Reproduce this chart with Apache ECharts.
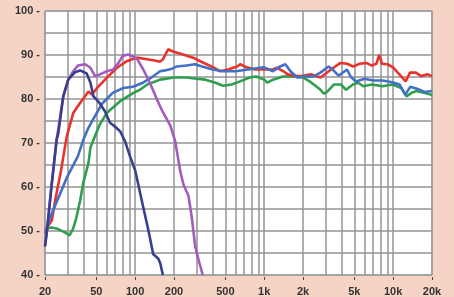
<!DOCTYPE html>
<html>
<head>
    <meta charset="utf-8">
    <title>Frequency response</title>
    <script src="https://cdn.jsdelivr.net/npm/echarts@6/dist/echarts.min.js"></script>
    <style>
        html, body { margin: 0; padding: 0; background: #f5d4c6; }
        #main { width: 454px; height: 297px; }
    </style>
</head>
<body>
<div id="main"></div>
<script type="text/javascript">
    // grid and label positions (Hz)
    var gridFreqs = [20, 30, 40, 50, 60, 70, 80, 90, 100, 200, 300, 400, 500, 600, 700, 800, 900,
        1000, 2000, 3000, 4000, 5000, 6000, 7000, 8000, 9000, 10000, 20000];
    var labelFreqs = [20, 50, 100, 200, 500, 1000, 2000, 5000, 10000, 20000];

    // dark blue curve
    var navyF = [20, 20.7, 22.5, 24.6, 25.4, 27.7, 30.3, 34.2, 37.4, 42.1, 45, 47.5, 52.9, 58.3, 63.8, 70,
        76.7, 83.6, 91.4, 100, 115.5, 127, 138, 145, 152, 157, 164];
    var navyDb = [46.5, 50, 60.4, 70.7, 72.3, 80.6, 84.4, 86.1, 86.5, 85.8, 83.7, 80.6, 79.1, 77.2, 74.6, 73.7,
        72.6, 70.3, 66.9, 63.8, 55.4, 50, 44.7, 44.2, 43.6, 42.5, 40];

    // purple curve
    var purpleF = [20, 20.7, 22.5, 24.6, 27.7, 30.3, 33.1, 36, 40.9, 45, 48.9, 53.4, 60.2, 67.6, 74.3, 80,
        88.6, 97, 104, 115.6, 130, 148, 164, 187, 204, 224, 237, 259, 275, 292, 309, 322, 334];
    var purpleDb = [46.5, 50, 60.4, 70.7, 80.6, 84.4, 86.3, 87.6, 87.9, 87.1, 85.2, 85.6, 86.3, 86.7, 88.2, 89.8,
        90.1, 89.6, 89, 86.7, 83.7, 79.8, 77, 74, 70.5, 63.5, 60.5, 58, 53, 46.5, 43.6, 41.7, 40];

    // red curve
    var redF = [20, 21.5, 22.6, 24, 26.7, 29.5, 33.1, 37.4, 43.5, 46.2, 50.6, 60.2, 72.3, 86.1, 103, 120, 138,
        156, 164, 180, 196, 235, 281, 335, 405, 455, 525, 618, 651, 730, 850, 1000, 1170, 1260, 1410, 1520,
        1790, 2010, 2300, 2730, 3000, 3400, 3900, 4400, 4900, 5500, 6200, 6800, 7400, 7800, 8200, 9000,
        10000, 11000, 12500, 13500, 15000, 16500, 18500, 20000];
    var redDb = [50, 51.5, 52.4, 57, 64, 71.5, 76.8, 79.1, 81.7, 81, 82.5, 84.8, 87.1, 88.6, 89.4, 89.1, 88.8,
        88.5, 89, 91.3, 90.8, 90.1, 89.4, 88.3, 87.2, 86.3, 86.7, 87.4, 87.9, 87.2, 86.7, 86.7, 86.7, 87.1, 86.3, 85.6,
        85.2, 85.3, 85.6, 84.9, 85.8, 87, 88.2, 88, 87.4, 88, 88.2, 87.6, 88, 90, 88,
        87.9, 87.2, 85.8, 84, 86, 86, 85.2, 85.6, 85.2];

    // blue curve
    var blueF = [20, 20.7, 21.9, 29.6, 36, 39.6, 43, 49, 56, 67, 81, 96, 115, 137, 156, 170, 190, 210, 250, 290,
        330, 400, 480, 600, 750, 990, 1170, 1330, 1460, 1600, 1810, 2010, 2400, 2730, 3160, 3400, 3770, 4390,
        4700, 5150, 6000, 7000, 8300, 9800, 11200, 12400, 13600, 15500, 17500, 20000];
    var blueDb = [49.5, 50.5, 53, 62.2, 67, 70.7, 73.2, 76.2, 79.1, 81.4, 82.5, 82.8, 83.7, 85.1, 86.3, 86.5, 86.8,
        87.4, 87.6, 87.9, 87.4, 86.7, 86.3, 86.3, 86.7, 87.2, 86.3, 87.4, 87.9, 86.3, 84.9, 85.1, 85.1, 86, 87.4,
        86.7, 85.3, 86.7, 85, 84, 84.6, 84.2, 84.2, 83.8, 83.3, 81, 82.8, 82.3, 81.6, 81.8];

    // green curve
    var greenF = [20, 22.5, 25, 28, 31, 33, 35, 37.5, 39.6, 43.5, 45, 52.9, 60.2, 76.4, 97, 109, 124, 156, 200,
        250, 300, 350, 420, 480, 560, 650, 770, 864, 1000, 1060, 1170, 1400, 1680, 2000, 2250, 2500, 2730,
        2900, 3076, 3480, 3930, 4310, 4880, 5350, 5870, 6840, 8240, 9910, 11550, 12680, 13890, 15230,
        17240, 19500, 20000];
    var greenDb = [50.5, 50.8, 50.5, 49.8, 49, 50.5, 53, 57, 61, 65.5, 69, 74.1, 76.8, 79.5, 81.4, 82.1, 83.3, 84.4,
        84.9, 84.9, 84.6, 84.4, 83.7, 83, 83.3, 84, 84.9, 85.1, 84.4, 83.7, 84.4, 85.1, 85.1, 84.9, 84, 83, 82.1,
        81.2, 81.6, 83.3, 83.3, 82.1, 83.3, 83.7, 82.9, 83.3, 82.9, 83.3, 82.5, 80.6, 81.4, 81.8,
        81.4, 81, 80.8];

    function pairs(f, v) {
        var out = [];
        for (var i = 0; i < f.length; i++) {
            out.push([f[i], v[i]]);
        }
        return out;
    }

    function curve(name, color, f, v) {
        return {
            name: name,
            type: 'line',
            showSymbol: false,
            xAxisIndex: 0,
            data: pairs(f, v),
            lineStyle: {color: color, width: 2.6},
            itemStyle: {color: color}
        };
    }

    var myChart = echarts.init(document.getElementById('main'));

    var labelFont = {
        color: '#333',
        fontSize: 11,
        fontWeight: 'bold',
        fontFamily: 'Liberation Sans, Arial, sans-serif'
    };
    var gridLine = {color: '#939393', width: 1.5};

    var option = {
        backgroundColor: '#f5d4c6',
        animation: false,
        grid: {
            left: 45, right: 22, top: 11, bottom: 22,
            show: true,
            backgroundColor: '#ffffff',
            borderColor: '#a9bfcf',
            borderWidth: 1
        },
        xAxis: [
            {
                type: 'log',
                logBase: 10,
                min: 20,
                max: 20000,
                position: 'bottom',
                axisLine: {show: false},
                axisTick: {show: false, customValues: gridFreqs},
                splitLine: {show: true, lineStyle: gridLine},
                axisLabel: Object.assign({
                    customValues: labelFreqs,
                    margin: 11,
                    formatter: function (v) {
                        return v >= 1000 ? (v / 1000) + 'k' : String(v);
                    }
                }, labelFont)
            },
            {
                type: 'log',
                logBase: 10,
                min: 20,
                max: 20000,
                position: 'bottom',
                offset: 2,
                axisLine: {show: false},
                axisTick: {show: true, length: 3, customValues: labelFreqs, lineStyle: {color: '#444', width: 1}},
                splitLine: {show: false},
                axisLabel: {show: false}
            }
        ],
        yAxis: {
            type: 'value',
            min: 40,
            max: 100,
            interval: 5,
            axisLine: {show: false},
            axisTick: {show: false},
            splitLine: {show: true, lineStyle: gridLine},
            axisLabel: Object.assign({
                margin: 5,
                formatter: function (v) {
                    return v % 10 === 0 ? v + ' -' : '';
                }
            }, labelFont)
        },
        series: [
            curve('green', '#2f9e4f', greenF, greenDb),
            curve('red', '#e8332d', redF, redDb),
            curve('blue', '#4270c4', blueF, blueDb),
            curve('purple', '#a35bbf', purpleF, purpleDb),
            curve('navy', '#393f8c', navyF, navyDb)
        ]
    };

    myChart.setOption(option);
</script>
</body>
</html>
